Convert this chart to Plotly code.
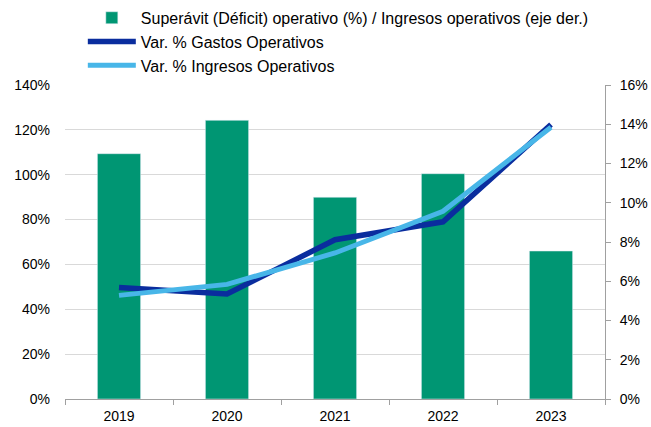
import plotly.graph_objects as go

years = ["2019", "2020", "2021", "2022", "2023"]
superavit = [12.5, 14.2, 10.28, 11.48, 7.54]          # right axis (%)
gastos = [49.7, 46.8, 71.0, 79.0, 122.4]              # left axis (%)
ingresos = [46.2, 51.1, 65.1, 83.7, 121.2]            # left axis (%)

names = ["Superávit (Déficit) operativo (%) / Ingresos operativos (eje der.)",
         "Var. % Gastos Operativos",
         "Var. % Ingresos Operativos"]

FONT = "Liberation Sans, Arial, sans-serif"
AXC = "#A0A0A0"

fig = go.Figure()
fig.add_trace(go.Bar(x=years, y=superavit, name=names[0], marker_color="#009673",
                     width=0.4, xaxis="x", yaxis="y"))
fig.add_trace(go.Scatter(x=years, y=gastos, name=names[1], mode="lines",
                         line=dict(color="#0A2D9E", width=5.5), xaxis="x", yaxis="y2"))
fig.add_trace(go.Scatter(x=years, y=ingresos, name=names[2], mode="lines",
                         line=dict(color="#48B6E8", width=5), xaxis="x", yaxis="y2"))

fig.update_layout(
    width=651, height=427,
    margin=dict(l=65, r=46, t=85, b=28, autoexpand=False),
    paper_bgcolor="white", plot_bgcolor="white",
    font=dict(family=FONT, size=14, color="#000000"),
    showlegend=True,
    legend=dict(x=0.033, y=1.268,
                xanchor="left", yanchor="top", orientation="v",
                font=dict(size=16), itemwidth=48, tracegroupgap=0,
                bgcolor="rgba(0,0,0,0)"),
    xaxis=dict(type="category", domain=[0, 1], anchor="y",
               showline=True, linecolor=AXC, linewidth=1,
               ticks="outside", ticklen=5, tickcolor=AXC,
               tickson="boundaries", showgrid=False, ticklabelstandoff=4,
               tickfont=dict(size=14)),
    yaxis=dict(side="right", anchor="x", range=[0, 16], dtick=2, ticksuffix="%",
               showgrid=False, showline=True, linecolor=AXC, linewidth=1,
               ticks="outside", ticklen=5, tickcolor=AXC, ticklabelstandoff=6,
               zeroline=False, tickfont=dict(size=14)),
    yaxis2=dict(side="left", overlaying="y", anchor="x", range=[0, 140], dtick=20,
                ticksuffix="%", showgrid=True, gridcolor="#D9D9D9", gridwidth=1,
                showline=False, zeroline=False, ticks="", ticklabelstandoff=14,
                tickfont=dict(size=14)),
)

fig.write_html("out.html", config={"displayModeBar": False},
               post_script="document.body.style.margin='0';"
                           "document.body.style.overflow='hidden';")
